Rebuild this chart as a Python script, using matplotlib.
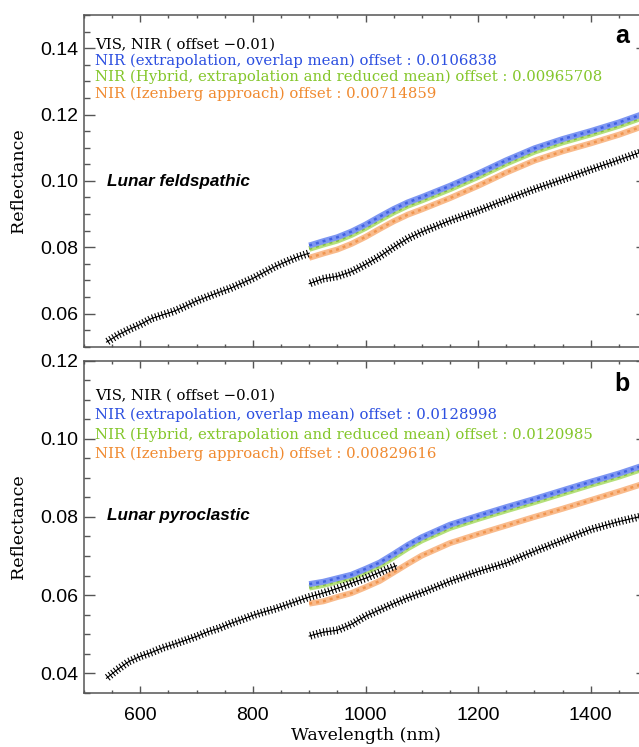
import matplotlib
matplotlib.use("Agg")
import matplotlib.pyplot as plt
from matplotlib import patheffects as pe
from matplotlib.ticker import MultipleLocator

# wavelengths (nm)
vis_wl_a = [540, 560, 580, 600, 620, 640, 660, 680, 700, 720, 740, 760, 780, 800, 820, 840, 860, 880, 900]
vis_wl_b = [540, 560, 580, 600, 620, 640, 660, 680, 700, 720, 740, 760, 780, 800, 820, 840, 860, 880, 900,
            920, 940, 960, 980, 1000, 1020, 1040, 1055]
nir_wl = [900, 925, 950, 975, 1000, 1025, 1050, 1075, 1100, 1150, 1200, 1250, 1300, 1350, 1400, 1450, 1500]

# panel a, lunar feldspathic
vis_a = [0.0514, 0.0535, 0.0552, 0.0567, 0.0585, 0.0596, 0.0607, 0.0622, 0.0638, 0.0651, 0.0664, 0.0676,
         0.0691, 0.0706, 0.0724, 0.0742, 0.0757, 0.0771, 0.0782]
nir_a = [0.0690, 0.0705, 0.0712, 0.0726, 0.0748, 0.0772, 0.0800, 0.0826, 0.0846, 0.0880, 0.0910, 0.0943,
         0.0975, 0.1004, 0.1034, 0.1063, 0.1093]
blue_a = [0.0805, 0.0818, 0.0830, 0.0847, 0.0868, 0.0892, 0.0915, 0.0935, 0.0951, 0.0985, 0.1022, 0.1062,
          0.1098, 0.1126, 0.1150, 0.1176, 0.1206]
green_a = [0.0795, 0.0808, 0.0820, 0.0837, 0.0858, 0.0882, 0.0905, 0.0925, 0.0941, 0.0975, 0.1012, 0.1052,
           0.1088, 0.1116, 0.1140, 0.1166, 0.1196]
orange_a = [0.0768, 0.0781, 0.0793, 0.0810, 0.0831, 0.0855, 0.0878, 0.0898, 0.0914, 0.0948, 0.0985, 0.1025,
            0.1061, 0.1089, 0.1113, 0.1139, 0.1169]

# panel b, lunar pyroclastic
vis_b = [0.0387, 0.0410, 0.0430, 0.0443, 0.0453, 0.0465, 0.0474, 0.0484, 0.0494, 0.0506, 0.0515, 0.0527,
         0.0537, 0.0548, 0.0557, 0.0565, 0.0575, 0.0585, 0.0595, 0.0603, 0.0612, 0.0622, 0.0633, 0.0643,
         0.0655, 0.0667, 0.0675]
nir_b = [0.0495, 0.0505, 0.0510, 0.0525, 0.0546, 0.0562, 0.0578, 0.0593, 0.0606, 0.0635, 0.0660, 0.0682,
         0.0712, 0.0740, 0.0768, 0.0788, 0.0805]
blue_b = [0.0628, 0.0634, 0.0643, 0.0652, 0.0667, 0.0683, 0.0705, 0.0728, 0.0748, 0.0780, 0.0803, 0.0825,
          0.0846, 0.0868, 0.0890, 0.0911, 0.0935]
green_b = [0.0619, 0.0626, 0.0635, 0.0644, 0.0659, 0.0675, 0.0697, 0.0720, 0.0740, 0.0772, 0.0795, 0.0817,
           0.0838, 0.0860, 0.0882, 0.0903, 0.0927]
orange_b = [0.0578, 0.0584, 0.0595, 0.0605, 0.0620, 0.0636, 0.0658, 0.0680, 0.0701, 0.0733, 0.0756, 0.0778,
            0.0800, 0.0821, 0.0843, 0.0865, 0.0888]

legend_a = ["VIS, NIR ( offset \u22120.01)",
            "NIR (extrapolation, overlap mean) offset : 0.0106838",
            "NIR (Hybrid, extrapolation and reduced mean) offset : 0.00965708",
            "NIR (Izenberg approach) offset : 0.00714859"]
legend_b = ["VIS, NIR ( offset \u22120.01)",
            "NIR (extrapolation, overlap mean) offset : 0.0128998",
            "NIR (Hybrid, extrapolation and reduced mean) offset : 0.0120985",
            "NIR (Izenberg approach) offset : 0.00829616"]

# (text colour, band colour, marker colour)
cols = {"blue": ("#2c4fe0", "#7d96f2", "#3355dd"),
        "green": ("#84c62a", "#b5e07c", "#78b830"),
        "orange": ("#f08a30", "#f9bb8c", "#ee8c40")}
axcol = "#555555"

W, H = 639, 747
fig = plt.figure(figsize=(W / 100, H / 100), dpi=100)


def plus_line(ax, x, y, z=3):
    # a chain of + signs like the IDL psym=1 curve
    ax.plot(x, y, color="k", lw=0.8, zorder=z,
            path_effects=[pe.Normal(),
                          pe.TickedStroke(spacing=2.4, angle=90, length=1.0, linewidth=0.8, foreground="k"),
                          pe.TickedStroke(spacing=2.4, angle=-90, length=1.0, linewidth=0.8, foreground="k")])


def band(ax, x, y, key, z=2):
    _, light, dark = cols[key]
    ax.plot(x, y, color=light, lw=4.3, solid_capstyle="butt", zorder=z)
    ax.plot(x, y, color=dark, lw=1.8, dashes=(1.2, 1.6), zorder=z + 0.1, alpha=0.8)


def panel(rect, ylim, vis_wl, vis, nir, blue, green, orange, legend, leg_y, name, name_y, letter, letter_y,
          xlabels):
    ax = fig.add_axes(rect)
    ax.set_xlim(500, 1500)
    ax.set_ylim(*ylim)

    band(ax, nir_wl, orange, "orange", 2)
    band(ax, nir_wl, green, "green", 2.3)
    band(ax, nir_wl, blue, "blue", 2.6)
    plus_line(ax, nir_wl, nir)
    plus_line(ax, vis_wl, vis, 3.2)

    # legend written as text lines in data coords
    tcols = ["k", cols["blue"][0], cols["green"][0], cols["orange"][0]]
    for i in range(4):
        ax.text(520, leg_y[i], legend[i], color=tcols[i], family="DejaVu Serif", fontsize=10.7,
                va="baseline", ha="left")
    ax.text(540, name_y, name, fontsize=12.3, fontweight="bold", fontstyle="italic",
            family="Liberation Sans", va="baseline")
    ax.text(1456, letter_y, letter, fontsize=18, fontweight="bold", family="Liberation Sans",
            va="baseline", ha="center")

    ax.xaxis.set_major_locator(MultipleLocator(200))
    ax.xaxis.set_minor_locator(MultipleLocator(50))
    ax.yaxis.set_major_locator(MultipleLocator(0.02))
    ax.yaxis.set_minor_locator(MultipleLocator(0.005))
    ax.tick_params(which="both", direction="in", top=True, right=True, color=axcol, width=1.0)
    ax.tick_params(axis="y", which="major", length=8, pad=4)
    ax.tick_params(axis="y", which="minor", length=4.2)
    ax.tick_params(axis="x", which="major", length=5, pad=10.5)
    ax.tick_params(axis="x", which="minor", length=2.5)
    ax.tick_params(labelsize=14)
    for lab in ax.get_xticklabels() + ax.get_yticklabels():
        lab.set_family("Liberation Sans")
    ax.yaxis.set_major_formatter(plt.FuncFormatter(lambda v, p: "%.2f" % v))
    if not xlabels:
        ax.tick_params(axis="x", labelbottom=False)
    for s in ax.spines.values():
        s.set_color(axcol)
        s.set_linewidth(1.1)

    ax.set_ylabel("Reflectance", family="DejaVu Serif", fontsize=12.6, va="center")
    ax.yaxis.set_label_coords((19 - 84) / 563, 0.5)
    return ax


left = 84 / W
width = (647 - 84) / W

panel([left, 1 - 346.7 / H, width, (346.7 - 15) / H], (0.05, 0.15), vis_wl_a, vis_a, nir_a, blue_a,
      green_a, orange_a, legend_a, [0.14, 0.135, 0.13, 0.125], "Lunar feldspathic", 0.0984, "a", 0.1415,
      False)
axb = panel([left, 1 - 692.7 / H, width, (692.7 - 360.7) / H], (0.035, 0.12), vis_wl_b, vis_b, nir_b,
            blue_b, green_b, orange_b, legend_b, [0.11, 0.105, 0.10, 0.095], "Lunar pyroclastic", 0.0791,
            "b", 0.1122, True)
axb.set_xlabel("Wavelength (nm)", family="DejaVu Serif", fontsize=12.5, va="center")
axb.xaxis.set_label_coords(0.5, (692.7 - 735) / 332)

fig.savefig("out.png", dpi=100)
